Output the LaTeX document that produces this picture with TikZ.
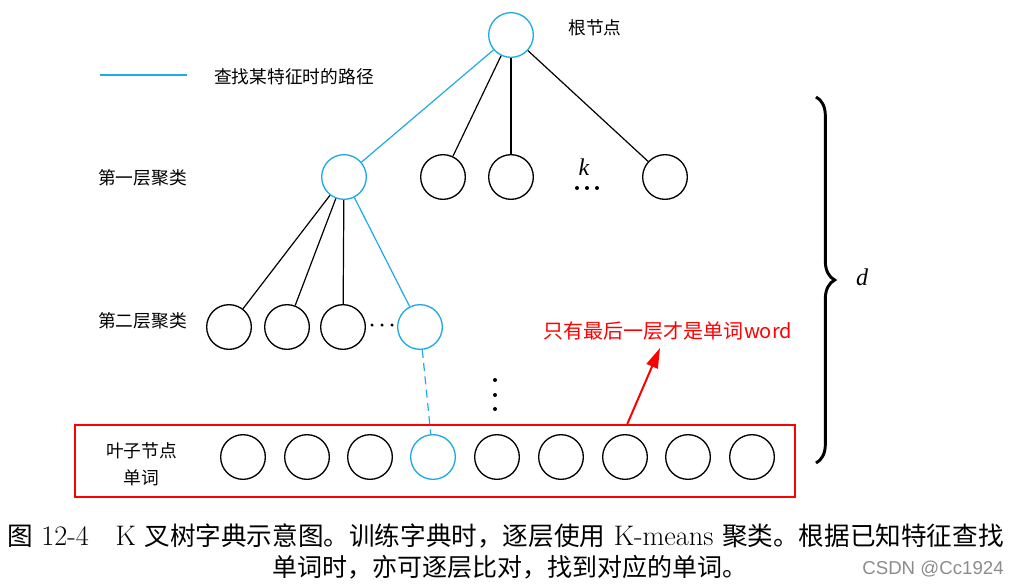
\documentclass[tikz,border=0pt]{standalone}
\usepackage{amsmath}
\usepackage{fontspec}
\newfontfamily\cjk{Noto Sans CJK SC}
\newfontfamily\tms{Liberation Serif}
\newfontfamily\wmark{Liberation Sans}
\usetikzlibrary{positioning,calc,arrows.meta,decorations.pathreplacing}
\definecolor{findblue}{RGB}{30,170,230}

\begin{document}
\begin{tikzpicture}[x=0.75pt,y=-0.75pt]
        \tikzstyle{circ}=[circle, draw, inner sep=0pt, minimum size=33.5pt, line width=1pt]
        \tikzstyle{found}=[circ, draw=findblue]
        \tikzstyle{lab}=[font=\cjk\fontsize{13.3}{20}\selectfont]
        \tikzstyle{edge}=[line width=0.9pt]
        \tikzstyle{bedge}=[edge, draw=findblue]
        \tikzstyle{dot}=[circle, fill, inner sep=0pt, minimum size=3pt]
        \tikzstyle{var}=[font=\tms\itshape\fontsize{18}{18}\selectfont]

        \useasboundingbox (0,0) rectangle (1016,587);

        % root and first level
        \node[found] (r)  at (511,35)  {};
        \node[found] (a1) at (344,177) {};
        \node[circ]  (a2) at (443,177) {};
        \node[circ]  (a3) at (511,177) {};
        \node[circ]  (a4) at (665,177) {};
        \node[var] (kk) at (584,167) {k};
        \foreach \x in {577,587,597} \node[dot] at (\x,188) {};

        % second level
        \node[circ]  (b1) at (229,327) {};
        \node[circ]  (b2) at (287,327) {};
        \node[circ]  (b3) at (343,327) {};
        \node[found] (b4) at (420,327) {};
        \foreach \x in {372,382,392} \node[dot, minimum size=2.6pt] at (\x,325) {};
        \foreach \y in {380,395,409} \node[dot] at (495,\y) {};

        % leaves
        \node[draw=red, line width=1.5pt, minimum width=540pt, minimum height=54pt] (box) at (434.5,461) {};
        \node[circ]  (c1) at (243,457) {};
        \node[circ]  (c2) at (307,457) {};
        \node[circ]  (c3) at (370,457) {};
        \node[found] (c4) at (433,457) {};
        \node[circ]  (c5) at (497,457) {};
        \node[circ]  (c6) at (561,457) {};
        \node[circ]  (c7) at (625,457) {};
        \node[circ]  (c8) at (688,457) {};
        \node[circ]  (c9) at (752,457) {};

        \draw[bedge] (r) -- (a1);
        \draw[edge] (r) -- (a2);
        \draw[edge] (r) -- (a3);
        \draw[edge] (r) -- (a4);
        \draw[edge] (a1) -- (b1);
        \draw[edge] (a1) -- (b2);
        \draw[edge] (a1) -- (b3);
        \draw[bedge] (a1) -- (b4);
        \draw[bedge, dash pattern=on 6pt off 4pt] (b4) -- (c4);

        % labels
        \coordinate (l1) at (100,75);
        \coordinate (l2) at (187,75);
        \draw[bedge] (l1) -- (l2);
        \node[lab] (legend) at (294,77) {查找某特征时的路径};
        \node[lab] (rootlab) at (595,28) {根节点};
        \node[lab] (lev1) at (142.5,178) {第一层聚类};
        \node[lab] (lev2) at (142.5,321) {第二层聚类};
        \node[lab, align=center] (leaflab) at (141.5,464) {叶子节点\\单词};

        \node[font=\cjk\fontsize{15}{18}\selectfont, text=red] (note) at (668,331) {只有最后一层才是单词word};
        \coordinate (tail) at ($(box.north west)!0.767!(box.north east)$);
        \coordinate (tip) at (660,348);
        \draw[red, line width=1.5pt, -{Triangle[length=15pt,width=9pt]}] (tail) -- (tip);

        % depth brace
        \coordinate (bt) at (816,97);
        \coordinate (bb) at (816,463);
        \draw[line width=2.2pt, decorate, decoration={brace, amplitude=14pt}] (bt) -- (bb);
        \node[var] (dd) at (862,277) {d};

        % caption
        \node (cap1) at (505.5,536) {\fontsize{21.2}{28}\selectfont{\cjk\fontsize{19.2}{28}\selectfont 图} 12-4\hspace{20pt}K {\cjk\fontsize{19.2}{28}\selectfont 叉树字典示意图。训练字典时，逐层使用} K-means {\cjk\fontsize{19.2}{28}\selectfont 聚类。根据已知特征查找}};
        \node (cap2) at (510,567) {\fontsize{18.75}{28}\selectfont\cjk 单词时，亦可逐层比对，找到对应的单词。};
        \node[text=black!45, font=\wmark\fontsize{14}{16}\selectfont] (wm) at (933,569) {CSDN @Cc1924};
\end{tikzpicture}
\end{document}
